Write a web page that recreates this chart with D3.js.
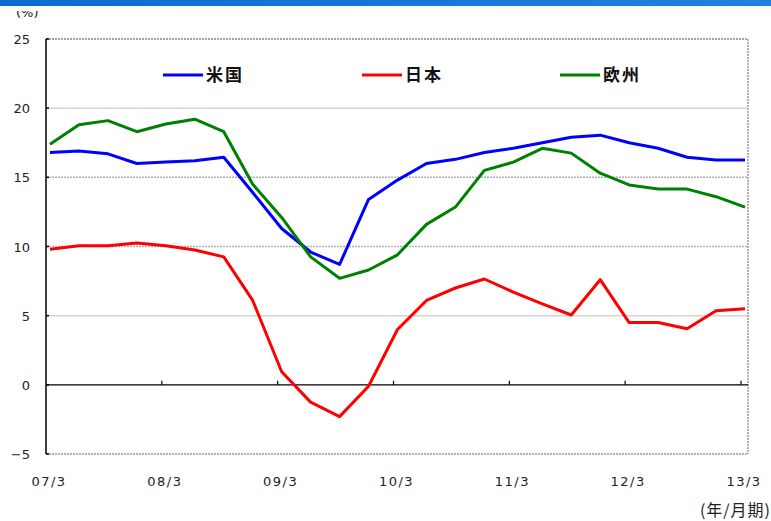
<!DOCTYPE html>
<html>
<head>
<meta charset="utf-8">
<script src="https://cdn.jsdelivr.net/npm/d3@7/dist/d3.min.js"></script>
<style>
  html, body { margin: 0; padding: 0; background: #fff; }
  svg { display: block; }
</style>
</head>
<body>
<svg id="chart" width="771" height="521"></svg>
<script>
// ---- data ----
const categories = ["07/3","07/6","07/9","07/12","08/3","08/6","08/9","08/12",
  "09/3","09/6","09/9","09/12","10/3","10/6","10/9","10/12",
  "11/3","11/6","11/9","11/12","12/3","12/6","12/9","12/12","13/3"];
const seriesNames = ["米国", "日本", "欧州"];
const usValues = [16.8,16.9,16.7,16.0,16.1,16.2,16.45,13.9,11.3,9.6,8.7,13.4,14.8,16.0,16.3,16.8,17.1,17.5,17.9,18.05,17.5,17.1,16.45,16.25,16.25];
const japanValues = [9.8,10.05,10.05,10.25,10.05,9.75,9.25,6.1,0.95,-1.25,-2.3,-0.1,4.0,6.1,7.0,7.65,6.7,5.85,5.05,7.6,4.5,4.5,4.05,5.35,5.5];
const europeValues = [17.4,18.8,19.1,18.3,18.85,19.2,18.3,14.5,12.1,9.25,7.7,8.3,9.4,11.6,12.85,15.5,16.1,17.1,16.75,15.3,14.45,14.15,14.15,13.6,12.85];
const xTickLabels = ["07/3","08/3","09/3","10/3","11/3","12/3","13/3"];
const yTicks = [25,20,15,10,5,0,-5];
const colors = ["#0000ff", "#ff0000", "#008000"];

const svg = d3.select("#chart");

// top blue bar
const grad = svg.append("defs").append("linearGradient").attr("id","topbar");
grad.append("stop").attr("offset","0%").attr("stop-color","#0a6cd0");
grad.append("stop").attr("offset","100%").attr("stop-color","#1f82dc");

// scales
const x = d3.scalePoint().domain(categories).range([50, 745]);
const y = d3.scaleLinear().domain([-5, 25]).range([454, 39]);
const left = 46, right = 748;

// unit label (partially hidden)
svg.append("text").attr("x", 16).attr("y", 17)
  .attr("font-family", "DejaVu Sans, sans-serif").attr("font-size", 13).attr("fill", "#222")
  .text("(%)");
svg.append("rect").attr("x", 0).attr("y", 0).attr("width", 771).attr("height", 11).attr("fill", "#fff");
svg.append("rect").attr("x", 0).attr("y", 0).attr("width", 771).attr("height", 6).attr("fill", "url(#topbar)");

// gridlines
const gridStyle = {20: ["#d4d4d4", null], 15: ["#b0b0b0", "2,1"], 10: ["#b0b0b0", "2,1"], 5: ["#d4d4d4", null],
                   25: ["#888", "2,1"], "-5": ["#999", "2,1"]};
yTicks.filter(v => v !== 0).forEach(v => {
  const st = gridStyle[v];
  svg.append("line").attr("x1", left).attr("x2", right)
    .attr("y1", y(v)).attr("y2", y(v))
    .attr("stroke", st[0]).attr("stroke-width", 1.5)
    .attr("stroke-dasharray", st[1]);
});
// right border
svg.append("line").attr("x1", right).attr("x2", right).attr("y1", y(25)).attr("y2", y(-5))
  .attr("stroke", "#999").attr("stroke-width", 1.5).attr("stroke-dasharray", "2,1");
// zero line
svg.append("line").attr("x1", left).attr("x2", right).attr("y1", y(0)).attr("y2", y(0))
  .attr("stroke", "#000").attr("stroke-width", 1.2);
// left axis
svg.append("line").attr("x1", left).attr("x2", left).attr("y1", y(25)).attr("y2", y(-5))
  .attr("stroke", "#000").attr("stroke-width", 1.5);
// y ticks (small inward)
yTicks.forEach(v => {
  svg.append("line").attr("x1", left).attr("x2", left + 3).attr("y1", y(v)).attr("y2", y(v))
    .attr("stroke", "#000").attr("stroke-width", 1.5);
});
// y labels
svg.append("g").selectAll("text").data(yTicks).join("text")
  .attr("x", 30).attr("y", d => y(d) + 5)
  .attr("text-anchor", "end")
  .attr("font-family", "DejaVu Sans, sans-serif").attr("font-size", 13).attr("fill", "#222")
  .text(d => d < 0 ? "\u2212" + Math.abs(d) : d);

// x ticks on zero line
xTickLabels.forEach((lab, i) => {
  if (i === 0) return;
  const xp = x(lab) - 4;
  svg.append("line").attr("x1", xp).attr("x2", xp).attr("y1", y(0)).attr("y2", y(0) - 4)
    .attr("stroke", "#000").attr("stroke-width", 1.2);
});
// x labels
svg.append("g").selectAll("text").data(xTickLabels).join("text")
  .attr("x", d => x(d) - 1).attr("y", 486)
  .attr("text-anchor", "middle")
  .attr("font-family", "DejaVu Sans, sans-serif").attr("font-size", 13)
  .attr("letter-spacing", 1.5).attr("fill", "#222")
  .text(d => d);
svg.append("text").attr("x", 771).attr("y", 516).attr("text-anchor", "end")
  .attr("font-family", "Noto Sans CJK JP, sans-serif").attr("font-size", 16)
  .attr("letter-spacing", 1).attr("fill", "#222")
  .text("(年/月期)");

// lines
const line = d3.line().x((d, i) => x(categories[i])).y(d => y(d));
const allSeries = [usValues, japanValues, europeValues];
allSeries.forEach((vals, k) => {
  svg.append("path").datum(vals).attr("d", line)
    .attr("fill", "none").attr("stroke", colors[k]).attr("stroke-width", 3)
    .attr("stroke-linejoin", "round");
});

// legend
const legendX = [163, 362, 560];
seriesNames.forEach((name, k) => {
  svg.append("line").attr("x1", legendX[k]).attr("x2", legendX[k] + 40)
    .attr("y1", 75).attr("y2", 75).attr("stroke", colors[k]).attr("stroke-width", 3);
  svg.append("text").attr("x", legendX[k] + 43).attr("y", 81)
    .attr("font-family", "Noto Sans CJK JP, sans-serif").attr("font-size", 17)
    .attr("font-weight", "bold").attr("letter-spacing", 2).attr("fill", "#111")
    .text(name);
});
</script>
</body>
</html>
